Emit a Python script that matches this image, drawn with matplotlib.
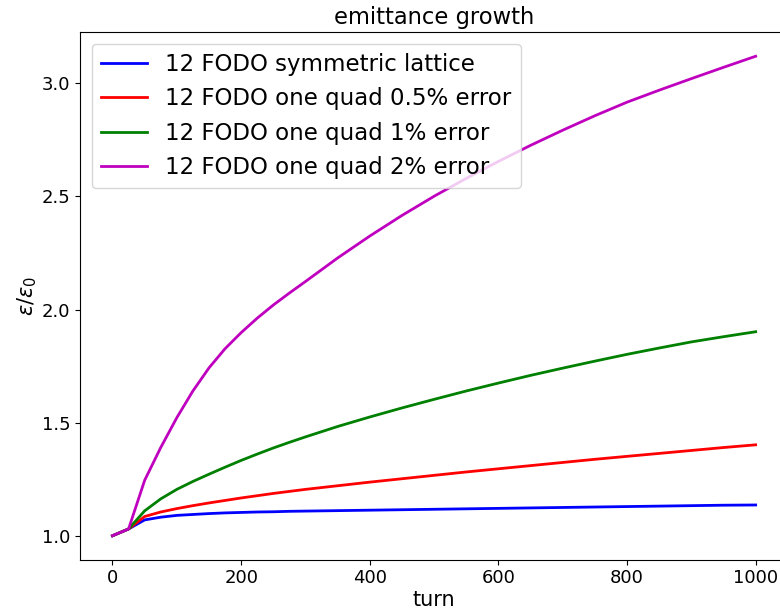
import matplotlib
matplotlib.use("Agg")
import matplotlib.pyplot as plt

turns = [0, 25, 50, 75, 100, 125, 150, 175, 200, 225, 250, 275, 300, 350,
         400, 450, 500, 550, 600, 650, 700, 750, 800, 850, 900, 950, 1000]

sym = [1.0, 1.03, 1.07, 1.082, 1.09, 1.094, 1.098, 1.101, 1.103, 1.105,
       1.106, 1.108, 1.109, 1.111, 1.113, 1.115, 1.117, 1.119, 1.121, 1.123,
       1.125, 1.127, 1.129, 1.131, 1.133, 1.135, 1.136]
err05 = [1.0, 1.03, 1.085, 1.105, 1.12, 1.133, 1.145, 1.156, 1.167, 1.177,
         1.187, 1.196, 1.205, 1.221, 1.237, 1.252, 1.267, 1.282, 1.296, 1.31,
         1.324, 1.338, 1.351, 1.364, 1.377, 1.39, 1.402]
err1 = [1.0, 1.03, 1.11, 1.163, 1.205, 1.24, 1.272, 1.303, 1.333, 1.361,
        1.388, 1.413, 1.437, 1.483, 1.525, 1.565, 1.603, 1.640, 1.675, 1.709,
        1.741, 1.772, 1.802, 1.830, 1.857, 1.880, 1.902]
err2 = [1.0, 1.03, 1.245, 1.39, 1.522, 1.64, 1.742, 1.827, 1.898, 1.962,
        2.020, 2.073, 2.124, 2.228, 2.325, 2.416, 2.501, 2.580, 2.655, 2.726,
        2.793, 2.857, 2.917, 2.970, 3.021, 3.071, 3.120]

labels = ["12 FODO symmetric lattice", "12 FODO one quad 0.5% error",
          "12 FODO one quad 1% error", "12 FODO one quad 2% error"]

fig = plt.figure(figsize=(7.8, 6.15), dpi=100)
ax = fig.add_axes([0.103, 0.0899, 0.907, 0.8576])

ax.plot(turns, sym, color="b", lw=2, label=labels[0])
ax.plot(turns, err05, color="r", lw=2, label=labels[1])
ax.plot(turns, err1, color="g", lw=2, label=labels[2])
ax.plot(turns, err2, color="m", lw=2, label=labels[3])

ax.set_title("emittance growth", fontsize=16.3)
ax.set_xlabel("turn", fontsize=15, labelpad=2)
ax.set_ylabel(r"$\epsilon/\epsilon_0$", fontsize=15, labelpad=2)
ax.tick_params(labelsize=13)
ax.set_yticks([1.0, 1.5, 2.0, 2.5, 3.0])
ax.set_xticks([0, 200, 400, 600, 800, 1000])
ax.legend(loc="upper left", fontsize=16.5)

fig.savefig("out.png", dpi=100)
